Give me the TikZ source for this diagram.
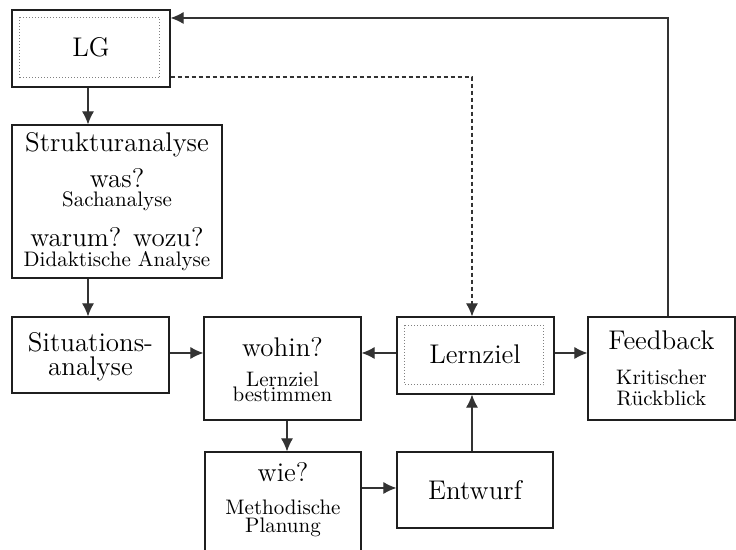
\documentclass[tikz,border=0pt]{standalone}
\usetikzlibrary{arrows.meta}
\begin{document}
\begin{tikzpicture}[x=0.5pt,y=-0.5pt,
  box/.style={draw=black!88, line width=0.6pt, rectangle, inner sep=0pt},
  dotbox/.style={draw=black!50, densely dotted, line width=0.5pt, rectangle, inner sep=0pt},
  big/.style={font=\fontsize{13.5}{16}\selectfont, inner sep=0pt, anchor=base},
  small/.style={font=\fontsize{10.5}{12.5}\selectfont, inner sep=0pt, anchor=base},
  tip/.style={-{Latex[length=6.5pt,width=6pt]}},
  flow/.style={draw=black!80, line width=0.55pt, tip},
  link/.style={draw=black!80, line width=0.55pt},
]
\useasboundingbox (0,0) rectangle (736,550);

% boxes (centre, size in pt)
\node[box, minimum width=79pt, minimum height=38.5pt] (lg) at (91,48.5) {};
\node[dotbox, minimum width=70pt, minimum height=30pt] (lgin) at (90,48) {};
\node[box, minimum width=105pt, minimum height=76.5pt] (struk) at (117,201.5) {};
\node[box, minimum width=78.5pt, minimum height=38pt] (sit) at (90.5,355) {};
\node[box, minimum width=78.5pt, minimum height=51.5pt] (wohin) at (282.5,368.5) {};
\node[box, minimum width=78.5pt, minimum height=38.5pt] (lz) at (475.5,355.5) {};
\node[dotbox, minimum width=69.5pt, minimum height=29.5pt] (lzin) at (474.5,355.5) {};
\node[box, minimum width=73.5pt, minimum height=51.5pt] (fb) at (661.5,368.5) {};
\node[box, minimum width=78pt, minimum height=60pt] (wie) at (283,512) {};
\node[box, minimum width=78pt, minimum height=38pt] (ent) at (475,490) {};

% texts
\node[big] (tlg) at (91,57) {LG};
\node[big] (t1) at (117,152) {Strukturanalyse};
\node[big] (t2) at (117,188) {was?};
\node[small] (t3) at (117,207) {Sachanalyse};
\node[big] (t4) at (117,247) {warum? wozu?};
\node[small] (t5) at (117,267) {Didaktische Analyse};
\node[big] (t6) at (90.5,352) {Situations-};
\node[big] (t7) at (90.5,376) {analyse};
\node[big] (t8) at (282.5,357) {wohin?};
\node[small] (t9) at (282.5,387) {Lernziel};
\node[small] (t10) at (282.5,402) {bestimmen};
\node[big] (tlz) at (475,364) {Lernziel};
\node[big] (t11) at (661.5,350) {Feedback};
\node[small] (t12) at (661.5,385) {Kritischer};
\node[small] (t13) at (661.5,406) {Rückblick};
\node[big] (t14) at (283,482) {wie?};
\node[small] (t15) at (283,515) {Methodische};
\node[small] (t16) at (283,533) {Planung};
\node[big] (tent) at (475,500) {Entwurf};

% connectors
\coordinate (fbtop) at (668,18);
\coordinate (dash) at (472,77);
\coordinate (lgx) at (88,0);
\coordinate (midy) at (0,353);
\coordinate (lowy) at (0,488);
\coordinate (wx) at (287,0);

\draw[flow] (lg.south -| lgx) -- (struk.north -| lgx);
\draw[flow] (struk.south -| lgx) -- (sit.north -| lgx);
\draw[flow] (sit.east |- midy) -- (wohin.west |- midy);
\draw[flow] (lz.west |- midy) -- (wohin.east |- midy);
\draw[flow] (lz.east |- midy) -- (fb.west |- midy);
\draw[flow] (wohin.south -| wx) -- (wie.north -| wx);
\draw[flow] (wie.east |- lowy) -- (ent.west |- lowy);
\draw[flow] (ent.north -| dash) -- (lz.south -| dash);
\draw[flow] (fb.north -| fbtop) -- (fbtop) -- (lg.east |- fbtop);
\draw[link, tip, dash pattern=on 2pt off 1.5pt]
  (lg.east |- dash) -- (dash) -- (lz.north -| dash);
\end{tikzpicture}
\end{document}
